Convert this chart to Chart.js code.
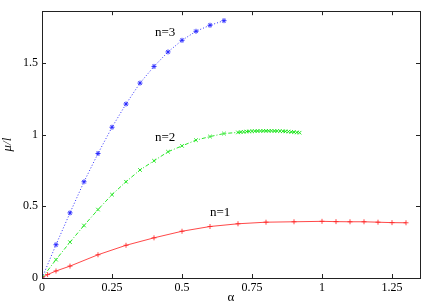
<!DOCTYPE html>
<html lang="en">
  <head>
    <meta charset="UTF-8" />
    <title>mu/l vs alpha</title>
    <style>
      html, body { margin: 0; padding: 0; background: #fff; }
      #wrap { width: 436px; height: 305px; }
    </style>
  </head>
  <body>
    <div id="wrap"><canvas id="chartJSContainer"></canvas></div>
    <script src="https://cdn.jsdelivr.net/npm/chart.js@4/dist/chart.umd.min.js"></script>
    <script>
      // n=1 (red, solid, +)
      const x1 = [0, 0.02, 0.05, 0.1, 0.2, 0.3, 0.4, 0.5, 0.6, 0.7, 0.8, 0.9, 1.0, 1.05, 1.1, 1.15, 1.2, 1.25, 1.3];
      const y1 = [0, 0.024, 0.049, 0.083, 0.162, 0.228, 0.28, 0.326, 0.359, 0.378, 0.389, 0.392, 0.395, 0.393, 0.392, 0.392, 0.389, 0.386, 0.385];

      // n=2 (green, dash-dot, x)
      const x2 = [0, 0.05, 0.1, 0.15, 0.2, 0.25, 0.3, 0.35, 0.4, 0.45, 0.5, 0.55, 0.6, 0.65,
                  0.70, 0.71, 0.72, 0.73, 0.74, 0.75, 0.76, 0.77, 0.78, 0.79, 0.80, 0.81,
                  0.82, 0.83, 0.84, 0.85, 0.86, 0.87, 0.88, 0.89, 0.90, 0.91, 0.92];
      const y2 = [0, 0.128, 0.25, 0.366, 0.477, 0.581, 0.671, 0.753, 0.817, 0.88, 0.921, 0.961, 0.986, 1.007,
                  1.015, 1.017, 1.019, 1.021, 1.022, 1.023, 1.024, 1.025, 1.025, 1.026, 1.026, 1.026,
                  1.026, 1.025, 1.025, 1.024, 1.023, 1.022, 1.021, 1.019, 1.017, 1.015, 1.013];

      // n=3 (blue, dotted, *)
      const x3 = [0, 0.05, 0.1, 0.15, 0.2, 0.25, 0.3, 0.35, 0.4, 0.45, 0.5, 0.55, 0.6, 0.65];
      const y3 = [0, 0.232, 0.454, 0.671, 0.868, 1.051, 1.213, 1.359, 1.475, 1.576, 1.657, 1.72, 1.762, 1.794];

      const xTicks = [0, 0.25, 0.5, 0.75, 1, 1.25];
      const yTicks = [0, 0.5, 1, 1.5];

      const curveNames = ["n=1", "n=2", "n=3"];
      const nameX = [0.636, 0.44, 0.44];
      const nameY = [0.458, 0.98, 1.71];

      const toPts = (xs, ys) => xs.map((x, i) => ({ x: x, y: ys[i] }));
      const serif = "'Liberation Serif', 'DejaVu Serif', serif";

      const datasets = [
        {
          label: curveNames[0],
          data: toPts(x1, y1),
          borderColor: "rgba(255,40,40,0.85)",
          borderWidth: 1,
          pointStyle: "cross",
          pointRadius: 2.5,
          pointBorderColor: "rgba(255,40,40,0.85)",
          pointBorderWidth: 1,
        },
        {
          label: curveNames[1],
          data: toPts(x2, y2),
          borderColor: "rgba(30,230,30,0.95)",
          borderWidth: 1,
          borderDash: [4, 2, 1, 2],
          pointStyle: "crossRot",
          pointRadius: 2.5,
          pointBorderColor: "rgba(30,230,30,0.95)",
          pointBorderWidth: 1,
        },
        {
          label: curveNames[2],
          data: toPts(x3, y3),
          borderColor: "rgba(40,40,255,0.95)",
          borderWidth: 1,
          borderDash: [1, 2],
          pointStyle: "star",
          pointRadius: 2.5,
          pointBorderColor: "rgba(40,40,255,0.95)",
          pointBorderWidth: 1,
        },
      ];

      // frame, inward ticks and curve names
      const frame = {
        id: "frame",
        afterDraw: (chart) => {
          const { ctx, chartArea: a, scales } = chart;
          ctx.save();
          ctx.strokeStyle = "#222";
          ctx.lineWidth = 1;
          ctx.strokeRect(Math.round(a.left) + 0.5, Math.round(a.top) + 0.5,
                         Math.round(a.right - a.left), Math.round(a.bottom - a.top));
          ctx.beginPath();
          xTicks.forEach((v) => {
            const px = Math.round(scales.x.getPixelForValue(v)) + 0.5;
            ctx.moveTo(px, a.bottom); ctx.lineTo(px, a.bottom - 4);
            ctx.moveTo(px, a.top); ctx.lineTo(px, a.top + 4);
          });
          yTicks.forEach((v) => {
            const py = Math.round(scales.y.getPixelForValue(v)) + 0.5;
            ctx.moveTo(a.left, py); ctx.lineTo(a.left + 4, py);
            ctx.moveTo(a.right, py); ctx.lineTo(a.right - 4, py);
          });
          ctx.stroke();

          ctx.fillStyle = "#000";
          ctx.font = "13px " + serif;
          ctx.textAlign = "center";
          ctx.textBaseline = "middle";
          curveNames.forEach((t, i) => {
            ctx.fillText(t, scales.x.getPixelForValue(nameX[i]), scales.y.getPixelForValue(nameY[i]));
          });
          ctx.restore();
        },
      };

      const options = {
        responsive: true,
        maintainAspectRatio: false,
        animation: false,
        layout: { padding: { top: 10, right: 16, left: 0, bottom: 0 } },
        plugins: { legend: { display: false }, tooltip: { enabled: false } },
        scales: {
          x: {
            type: "linear",
            min: 0,
            max: 1.35,
            grid: { display: false, drawTicks: false },
            border: { display: false },
            afterBuildTicks: (s) => { s.ticks = xTicks.map((v) => ({ value: v })); },
            afterFit: (s) => { s.height = 27; },
            ticks: {
              padding: 3,
              color: "#000",
              font: { family: serif, size: 12 },
              maxRotation: 0,
              callback: (v) => String(v),
            },
            title: {
              display: true,
              text: "α",
              color: "#000",
              font: { family: serif, size: 13 },
              padding: { top: 2, bottom: 0 },
            },
          },
          y: {
            type: "linear",
            min: 0,
            max: 1.86,
            grid: { display: false, drawTicks: false },
            border: { display: false },
            afterBuildTicks: (s) => { s.ticks = yTicks.map((v) => ({ value: v })); },
            afterFit: (s) => { s.width = 42; },
            ticks: {
              padding: 4,
              color: "#000",
              font: { family: serif, size: 12 },
              callback: (v) => String(v),
            },
            title: {
              display: true,
              text: "μ/l",
              color: "#000",
              font: { family: serif, size: 13, style: "italic" },
              padding: { top: 0, bottom: 0 },
            },
          },
        },
      };

      new Chart(document.getElementById("chartJSContainer").getContext("2d"), {
        type: "scatter",
        data: { datasets: datasets.map((d) => Object.assign({ showLine: true, tension: 0, fill: false }, d)) },
        options,
        plugins: [frame],
      });
    </script>
  </body>
</html>
